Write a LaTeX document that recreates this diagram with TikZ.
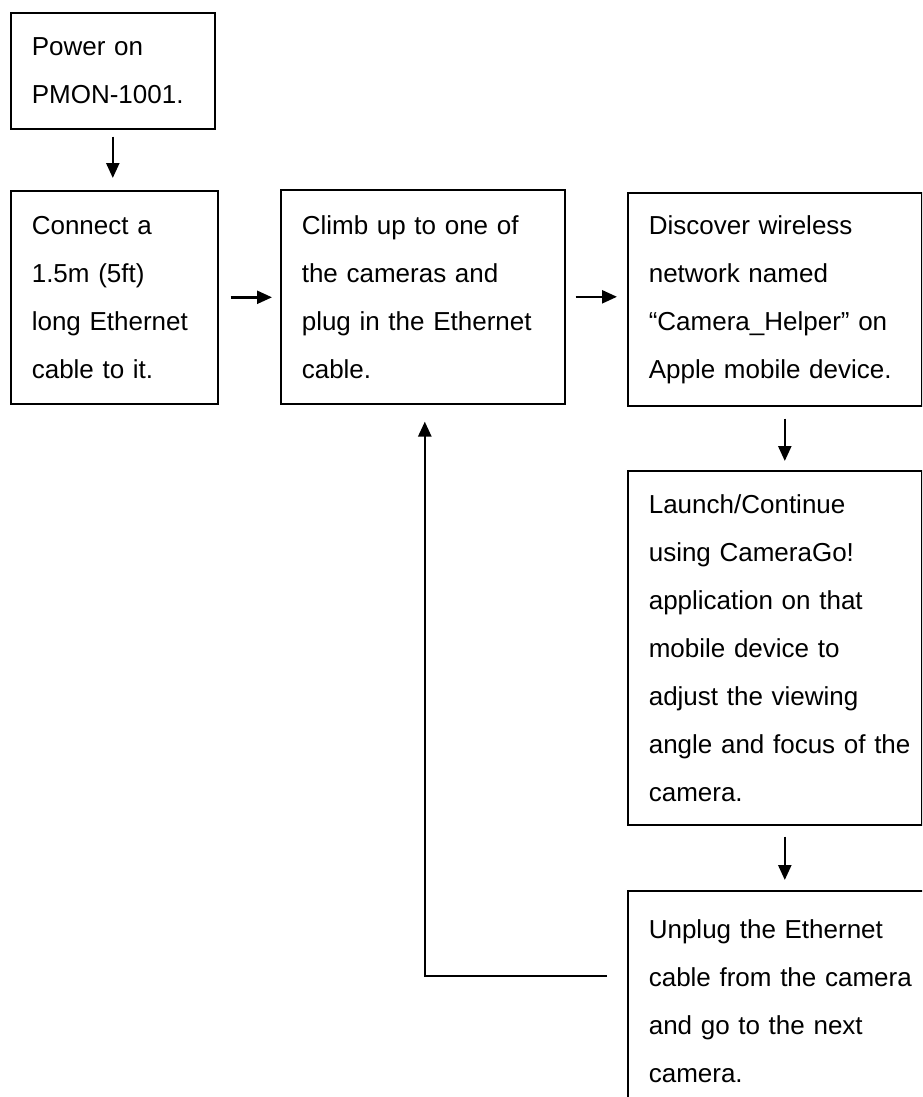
\documentclass[tikz,border=0pt]{standalone}
\usepackage{fontspec}
\setmainfont{Liberation Sans}
\usetikzlibrary{arrows.meta}
\newcommand\oneline[1]{\mbox{#1}}
\tikzset{
  stepbox/.style={draw=black, line width=1.6pt, rectangle, anchor=north west,
    inner xsep=21pt, inner ysep=0pt, align=left,
    font=\fontsize{26}{48}\selectfont},
  flow/.style={line width=2.4pt, -{Triangle[length=15pt,width=13pt]}}
}
\begin{document}
\begin{tikzpicture}[x=1pt,y=-1pt]
\useasboundingbox (0,0) rectangle (922,1097);
\fill[white] (0,0) rectangle (922,1097);
\clip (0,0) rectangle (922,1097);
\node[stepbox, text width=162pt, minimum height=116pt] (b1) at (10,12) {\oneline{Power on}\\\oneline{PMON-1001.}};
\node[stepbox, text width=165pt, minimum height=213pt] (b2) at (10,190) {\oneline{Connect a}\\\oneline{1.5m (5ft)}\\\oneline{long Ethernet}\\\oneline{cable to it.}};
\node[stepbox, text width=242pt, minimum height=214pt] (b3) at (280,189) {\oneline{Climb up to one of}\\\oneline{the cameras and}\\\oneline{plug in the Ethernet}\\\oneline{cable.}};
\node[stepbox, text width=252pt, minimum height=213pt] (b4) at (627,192) {\oneline{Discover wireless}\\\oneline{network named}\\\oneline{“Camera\_Helper” on}\\\oneline{Apple mobile device.}};
\node[stepbox, text width=252pt, minimum height=354pt] (b5) at (627,470) {\oneline{Launch/Continue}\\\oneline{using CameraGo!}\\\oneline{application on that}\\\oneline{mobile device to}\\\oneline{adjust the viewing}\\\oneline{angle and focus of the}\\\oneline{camera.}};
\node[stepbox, text width=262pt, minimum height=220pt] (b6) at (627,890) {\oneline{Unplug the Ethernet}\\\oneline{cable from the camera}\\\oneline{and go to the next}\\\oneline{camera.}};
\coordinate (fbstart) at (607,976);
\draw[flow, shorten <=7pt, shorten >=12pt] (b1.south) -- (b1.south |- b2.north);
\draw[flow, shorten <=12pt, shorten >=8pt] (b2.east) -- (b2.east -| b3.west);
\draw[flow, shorten <=10pt, shorten >=10pt] (b3.east) -- (b3.east -| b4.west);
\draw[flow, shorten <=12pt, shorten >=9pt] ([xshift=10pt]b4.south) -- ([xshift=10pt]b4.south |- b5.north);
\draw[flow, shorten <=11pt, shorten >=10pt] ([xshift=10pt]b5.south) -- ([xshift=10pt]b5.south |- b6.north);
\draw[flow, line width=2.6pt, shorten >=17pt] (fbstart) -| ([xshift=2pt]b3.south);
\end{tikzpicture}
\end{document}
